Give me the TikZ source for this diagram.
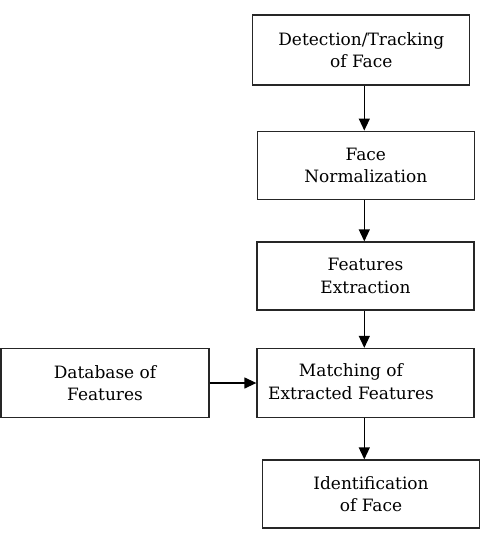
\documentclass[tikz,border=0pt]{standalone}
\usepackage{fontspec}
\setmainfont{DejaVu Serif}
\usetikzlibrary{arrows.meta}
\begin{document}
\begin{tikzpicture}[x=1pt,y=-1pt,
  box/.style={draw=black!85,line width=1.3pt,minimum width=217pt,minimum height=69pt,inner sep=0pt,align=center,
    font=\fontsize{17}{22.5}\selectfont},
  lbl/.style={inner sep=0pt,align=center,font=\fontsize{17}{22.5}\selectfont},
  arr/.style={draw=black,line width=1.3pt,-{Triangle[length=12pt,width=11pt]}}]
\useasboundingbox (0,0) rectangle (481,535);
\node[box,minimum height=70pt] (b1) at (361.3,50) {Detection/Tracking\\of Face};
\node[box,minimum height=68pt] (b2) at (365.8,165.2) {Face\\Normalization};
\node[box,minimum height=68pt] (b3) at (365.5,276) {Features\\Extraction};
\node[box] (b4) at (365.5,383) {};
\node[lbl] (t4) at (351,381.5) {Matching of\\Extracted Features};
\node[box,minimum width=216.5pt,minimum height=68pt] (b5) at (371,494) {Identification\\of Face};
\node[box,minimum width=208pt] (db) at (105,383) {Database of\\Features};
\coordinate (ax) at (364.3,0);
\draw[arr] (b1.south -| ax) -- (b2.north -| ax);
\draw[arr] (b2.south -| ax) -- (b3.north -| ax);
\draw[arr] (b3.south -| ax) -- (b4.north -| ax);
\draw[arr] (b4.south -| ax) -- (b5.north -| ax);
\draw[arr] (db.east) -- (b4.west);
\end{tikzpicture}
\end{document}
